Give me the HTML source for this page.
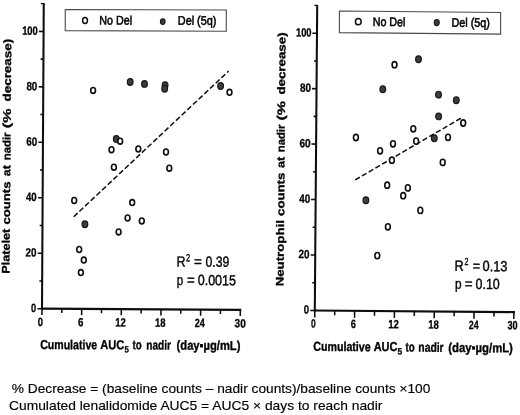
<!DOCTYPE html>
<html lang="en"><head><meta charset="utf-8"><title>Cumulative AUC5 vs nadir counts</title>
<style>html,body{margin:0;padding:0;background:#fff}body{width:520px;height:415px;overflow:hidden}svg{display:block;font-family:"Liberation Sans", sans-serif}text{white-space:pre}</style></head><body>
<svg width="520" height="415" viewBox="0 0 520 415">
<rect width="520" height="415" fill="#fff"/>
<g transform="rotate(0.33 42.0 308.7)">
<line x1="73.17" y1="216.62" x2="227.33" y2="69.93" stroke="#0d0d0d" stroke-width="1.5" stroke-dasharray="5.3 2.5"/>
<path d="M39.20 3.67H42.00" stroke="#0d0d0d" stroke-width="1.3" fill="none"/>
<path d="M42.00 3.07V309.70" stroke="#0d0d0d" stroke-width="2.05" fill="none"/>
<path d="M41.10 308.70H241.30" stroke="#0d0d0d" stroke-width="2.2" fill="none"/>
<path d="M37.40 308.70H42.00M37.40 253.24H42.00M37.40 197.78H42.00M37.40 142.32H42.00M37.40 86.86H42.00M37.40 31.40H42.00M39.20 280.97H42.00M39.20 225.51H42.00M39.20 170.05H42.00M39.20 114.59H42.00M39.20 59.13H42.00M42.00 308.70V314.90M81.66 308.70V314.90M121.32 308.70V314.90M160.98 308.70V314.90M200.64 308.70V314.90M240.30 308.70V314.90M61.83 308.70V312.90M101.49 308.70V312.90M141.15 308.70V312.90M180.81 308.70V312.90M220.47 308.70V312.90" stroke="#0d0d0d" stroke-width="1.55" fill="none"/>
<ellipse cx="128.89" cy="81.50" rx="2.85" ry="3.35" fill="#3d3d3d" stroke="#161616" stroke-width="1.2"/>
<ellipse cx="143.20" cy="83.31" rx="2.85" ry="3.35" fill="#3d3d3d" stroke="#161616" stroke-width="1.2"/>
<ellipse cx="163.81" cy="84.49" rx="2.85" ry="3.35" fill="#3d3d3d" stroke="#161616" stroke-width="1.2"/>
<ellipse cx="163.43" cy="88.10" rx="2.85" ry="3.35" fill="#3d3d3d" stroke="#161616" stroke-width="1.2"/>
<ellipse cx="219.31" cy="84.98" rx="2.85" ry="3.35" fill="#3d3d3d" stroke="#161616" stroke-width="1.2"/>
<ellipse cx="115.32" cy="138.47" rx="2.85" ry="3.35" fill="#3d3d3d" stroke="#161616" stroke-width="1.2"/>
<ellipse cx="84.41" cy="224.05" rx="2.85" ry="3.35" fill="#3d3d3d" stroke="#161616" stroke-width="1.2"/>
<ellipse cx="91.84" cy="90.11" rx="2.4" ry="2.95" fill="#fff" stroke="#0d0d0d" stroke-width="1.6"/>
<ellipse cx="228.25" cy="91.22" rx="2.4" ry="2.95" fill="#fff" stroke="#0d0d0d" stroke-width="1.6"/>
<ellipse cx="119.23" cy="140.75" rx="2.4" ry="2.95" fill="#fff" stroke="#0d0d0d" stroke-width="1.6"/>
<ellipse cx="110.58" cy="149.30" rx="2.4" ry="2.95" fill="#fff" stroke="#0d0d0d" stroke-width="1.6"/>
<ellipse cx="137.38" cy="148.35" rx="2.4" ry="2.95" fill="#fff" stroke="#0d0d0d" stroke-width="1.6"/>
<ellipse cx="165.10" cy="151.29" rx="2.4" ry="2.95" fill="#fff" stroke="#0d0d0d" stroke-width="1.6"/>
<ellipse cx="113.08" cy="166.79" rx="2.4" ry="2.95" fill="#fff" stroke="#0d0d0d" stroke-width="1.6"/>
<ellipse cx="168.49" cy="167.47" rx="2.4" ry="2.95" fill="#fff" stroke="#0d0d0d" stroke-width="1.6"/>
<ellipse cx="73.58" cy="200.32" rx="2.4" ry="2.95" fill="#fff" stroke="#0d0d0d" stroke-width="1.6"/>
<ellipse cx="131.59" cy="202.08" rx="2.4" ry="2.95" fill="#fff" stroke="#0d0d0d" stroke-width="1.6"/>
<ellipse cx="127.08" cy="217.51" rx="2.4" ry="2.95" fill="#fff" stroke="#0d0d0d" stroke-width="1.6"/>
<ellipse cx="141.29" cy="220.33" rx="2.4" ry="2.95" fill="#fff" stroke="#0d0d0d" stroke-width="1.6"/>
<ellipse cx="118.16" cy="231.46" rx="2.4" ry="2.95" fill="#fff" stroke="#0d0d0d" stroke-width="1.6"/>
<ellipse cx="78.86" cy="249.29" rx="2.4" ry="2.95" fill="#fff" stroke="#0d0d0d" stroke-width="1.6"/>
<ellipse cx="83.52" cy="259.86" rx="2.4" ry="2.95" fill="#fff" stroke="#0d0d0d" stroke-width="1.6"/>
<ellipse cx="80.69" cy="272.38" rx="2.4" ry="2.95" fill="#fff" stroke="#0d0d0d" stroke-width="1.6"/>
<polygon points="63.53,9.32 224.58,8.94 224.70,30.24 63.65,30.52" fill="#fff" stroke="#4a4a4a" stroke-width="1.1"/>
<ellipse cx="83.39" cy="20.26" rx="2.4" ry="3.0" fill="#fff" stroke="#0d0d0d" stroke-width="1.5"/>
<ellipse cx="161.09" cy="20.91" rx="2.35" ry="2.85" fill="#3d3d3d" stroke="#161616" stroke-width="1.1"/>
<text id="l_lg1" x="97.71" y="24.17" font-size="12.5" font-weight="normal" textLength="32.72" lengthAdjust="spacingAndGlyphs" fill="#000" stroke="#000" stroke-width="0.55">No Del</text>
<text id="l_lg2" x="176.21" y="23.92" font-size="12.5" font-weight="normal" textLength="38.56" lengthAdjust="spacingAndGlyphs" fill="#000" stroke="#000" stroke-width="0.55">Del (5q)</text>
<text id="l_y100" x="20.57" y="34.82" font-size="12" font-weight="bold" textLength="15.63" lengthAdjust="spacingAndGlyphs" fill="#000" stroke="#000" stroke-width="0.3">100</text>
<text id="l_y80" x="25.14" y="90.25" font-size="12" font-weight="bold" textLength="10.91" lengthAdjust="spacingAndGlyphs" fill="#000" stroke="#000" stroke-width="0.3">80</text>
<text id="l_y60" x="25.26" y="145.71" font-size="12" font-weight="bold" textLength="10.92" lengthAdjust="spacingAndGlyphs" fill="#000" stroke="#000" stroke-width="0.3">60</text>
<text id="l_y40" x="25.38" y="201.17" font-size="12" font-weight="bold" textLength="10.67" lengthAdjust="spacingAndGlyphs" fill="#000" stroke="#000" stroke-width="0.3">40</text>
<text id="l_y20" x="25.25" y="256.64" font-size="12" font-weight="bold" textLength="10.92" lengthAdjust="spacingAndGlyphs" fill="#000" stroke="#000" stroke-width="0.3">20</text>
<text id="l_y0" x="30.92" y="312.06" font-size="12" font-weight="bold" textLength="5.11" lengthAdjust="spacingAndGlyphs" fill="#000" stroke="#000" stroke-width="0.3">0</text>
<text id="l_x0" x="37.85" y="326.01" font-size="12" font-weight="bold" textLength="5.19" lengthAdjust="spacingAndGlyphs" fill="#000" stroke="#000" stroke-width="0.3">0</text>
<text id="l_x6" x="78.00" y="326.06" font-size="12" font-weight="bold" textLength="5.40" lengthAdjust="spacingAndGlyphs" fill="#000" stroke="#000" stroke-width="0.3">6</text>
<text id="l_x12" x="115.35" y="326.11" font-size="12" font-weight="bold" textLength="10.59" lengthAdjust="spacingAndGlyphs" fill="#000" stroke="#000" stroke-width="0.3">12</text>
<text id="l_x18" x="155.05" y="326.16" font-size="12" font-weight="bold" textLength="10.57" lengthAdjust="spacingAndGlyphs" fill="#000" stroke="#000" stroke-width="0.3">18</text>
<text id="l_x24" x="194.95" y="326.20" font-size="12" font-weight="bold" textLength="10.03" lengthAdjust="spacingAndGlyphs" fill="#000" stroke="#000" stroke-width="0.3">24</text>
<text id="l_x30" x="234.70" y="326.25" font-size="12" font-weight="bold" textLength="11.17" lengthAdjust="spacingAndGlyphs" fill="#000" stroke="#000" stroke-width="0.3">30</text>
<text id="l_R" x="176.16" y="265.83" font-size="14.7" font-weight="normal" textLength="9.00" lengthAdjust="spacingAndGlyphs" fill="#000" stroke="#000" stroke-width="0.4">R</text>
<text id="l_R2" x="185.62" y="260.37" font-size="10.3" font-weight="normal" textLength="4.15" lengthAdjust="spacingAndGlyphs" fill="#000" stroke="#000" stroke-width="0.32000000000000006">2</text>
<text id="l_Req" x="193.85" y="265.72" font-size="14.7" font-weight="normal" textLength="7.84" lengthAdjust="spacingAndGlyphs" fill="#000" stroke="#000" stroke-width="0.4">=</text>
<text id="l_Rv" x="205.31" y="265.76" font-size="14.7" font-weight="normal" textLength="23.71" lengthAdjust="spacingAndGlyphs" fill="#000" stroke="#000" stroke-width="0.4">0.39</text>
<text id="l_p" x="176.56" y="284.22" font-size="14.7" font-weight="normal" textLength="6.35" lengthAdjust="spacingAndGlyphs" fill="#000" stroke="#000" stroke-width="0.4">p</text>
<text id="l_peq" x="186.96" y="284.16" font-size="14.7" font-weight="normal" textLength="7.69" lengthAdjust="spacingAndGlyphs" fill="#000" stroke="#000" stroke-width="0.4">=</text>
<text id="l_pv" x="197.61" y="284.20" font-size="14.7" font-weight="normal" textLength="38.20" lengthAdjust="spacingAndGlyphs" fill="#000" stroke="#000" stroke-width="0.4">0.0015</text>
<text id="l_xt1" x="40.43" y="349.01" font-size="13" font-weight="bold" textLength="56.95" lengthAdjust="spacingAndGlyphs" fill="#000" stroke="#000" stroke-width="0.35">Cumulative</text>
<text id="l_xt2" x="100.43" y="348.76" font-size="13" font-weight="bold" textLength="23.95" lengthAdjust="spacingAndGlyphs" fill="#000" stroke="#000" stroke-width="0.35">AUC</text>
<text id="l_xt3" x="124.75" y="352.12" font-size="9.3" font-weight="bold" textLength="4.32" lengthAdjust="spacingAndGlyphs" fill="#000" stroke="#000" stroke-width="0.27999999999999997">5</text>
<text id="l_xt4" x="132.83" y="348.78" font-size="13" font-weight="bold" textLength="9.19" lengthAdjust="spacingAndGlyphs" fill="#000" stroke="#000" stroke-width="0.35">to</text>
<text id="l_xt5" x="146.58" y="348.80" font-size="13" font-weight="bold" textLength="24.54" lengthAdjust="spacingAndGlyphs" fill="#000" stroke="#000" stroke-width="0.35">nadir</text>
<text id="l_xt6" x="176.83" y="348.82" font-size="13" font-weight="bold" textLength="63.80" lengthAdjust="spacingAndGlyphs" fill="#000" stroke="#000" stroke-width="0.35">(day&#9642;&#181;g/mL)</text>
</g>
<g transform="rotate(0.45 314.8 310.5)">
<line x1="354.17" y1="179.59" x2="460.38" y2="116.45" stroke="#0d0d0d" stroke-width="1.5" stroke-dasharray="5.3 2.5"/>
<path d="M312.00 5.47H314.80" stroke="#0d0d0d" stroke-width="1.3" fill="none"/>
<path d="M314.80 4.87V311.50" stroke="#0d0d0d" stroke-width="2.05" fill="none"/>
<path d="M313.90 310.50H515.00" stroke="#0d0d0d" stroke-width="2.2" fill="none"/>
<path d="M310.20 310.50H314.80M310.20 255.04H314.80M310.20 199.58H314.80M310.20 144.12H314.80M310.20 88.66H314.80M310.20 33.20H314.80M312.00 282.77H314.80M312.00 227.31H314.80M312.00 171.85H314.80M312.00 116.39H314.80M312.00 60.93H314.80M314.80 310.50V317.40M354.62 310.50V317.40M394.43 310.50V317.40M434.25 310.50V317.40M474.06 310.50V317.40M513.88 310.50V317.40M334.71 310.50V315.20M374.52 310.50V315.20M414.34 310.50V315.20M454.16 310.50V315.20M493.97 310.50V315.20" stroke="#0d0d0d" stroke-width="1.55" fill="none"/>
<ellipse cx="381.06" cy="88.67" rx="2.85" ry="3.35" fill="#3d3d3d" stroke="#161616" stroke-width="1.2"/>
<ellipse cx="416.52" cy="58.39" rx="2.85" ry="3.35" fill="#3d3d3d" stroke="#161616" stroke-width="1.2"/>
<ellipse cx="436.80" cy="93.64" rx="2.85" ry="3.35" fill="#3d3d3d" stroke="#161616" stroke-width="1.2"/>
<ellipse cx="454.64" cy="99.20" rx="2.85" ry="3.35" fill="#3d3d3d" stroke="#161616" stroke-width="1.2"/>
<ellipse cx="437.07" cy="115.43" rx="2.85" ry="3.35" fill="#3d3d3d" stroke="#161616" stroke-width="1.2"/>
<ellipse cx="432.94" cy="137.27" rx="2.85" ry="3.35" fill="#3d3d3d" stroke="#161616" stroke-width="1.2"/>
<ellipse cx="365.03" cy="199.80" rx="2.85" ry="3.35" fill="#3d3d3d" stroke="#161616" stroke-width="1.2"/>
<ellipse cx="392.57" cy="64.08" rx="2.4" ry="3.1" fill="#fff" stroke="#0d0d0d" stroke-width="1.6"/>
<ellipse cx="354.54" cy="137.18" rx="2.4" ry="3.1" fill="#fff" stroke="#0d0d0d" stroke-width="1.6"/>
<ellipse cx="378.84" cy="150.29" rx="2.4" ry="3.1" fill="#fff" stroke="#0d0d0d" stroke-width="1.6"/>
<ellipse cx="391.69" cy="143.19" rx="2.4" ry="3.1" fill="#fff" stroke="#0d0d0d" stroke-width="1.6"/>
<ellipse cx="411.87" cy="128.03" rx="2.4" ry="3.1" fill="#fff" stroke="#0d0d0d" stroke-width="1.6"/>
<ellipse cx="414.77" cy="140.31" rx="2.4" ry="3.1" fill="#fff" stroke="#0d0d0d" stroke-width="1.6"/>
<ellipse cx="390.72" cy="159.60" rx="2.4" ry="3.1" fill="#fff" stroke="#0d0d0d" stroke-width="1.6"/>
<ellipse cx="446.64" cy="136.26" rx="2.4" ry="3.1" fill="#fff" stroke="#0d0d0d" stroke-width="1.6"/>
<ellipse cx="461.72" cy="121.84" rx="2.4" ry="3.1" fill="#fff" stroke="#0d0d0d" stroke-width="1.6"/>
<ellipse cx="441.53" cy="161.40" rx="2.4" ry="3.1" fill="#fff" stroke="#0d0d0d" stroke-width="1.6"/>
<ellipse cx="386.21" cy="184.64" rx="2.4" ry="3.1" fill="#fff" stroke="#0d0d0d" stroke-width="1.6"/>
<ellipse cx="406.83" cy="187.17" rx="2.4" ry="3.1" fill="#fff" stroke="#0d0d0d" stroke-width="1.6"/>
<ellipse cx="402.30" cy="195.01" rx="2.4" ry="3.1" fill="#fff" stroke="#0d0d0d" stroke-width="1.6"/>
<ellipse cx="419.51" cy="209.57" rx="2.4" ry="3.1" fill="#fff" stroke="#0d0d0d" stroke-width="1.6"/>
<ellipse cx="387.24" cy="226.23" rx="2.4" ry="3.1" fill="#fff" stroke="#0d0d0d" stroke-width="1.6"/>
<ellipse cx="376.87" cy="255.11" rx="2.4" ry="3.1" fill="#fff" stroke="#0d0d0d" stroke-width="1.6"/>
<polygon points="337.05,10.82 498.25,11.05 498.42,32.65 337.22,32.42" fill="#fff" stroke="#4a4a4a" stroke-width="1.1"/>
<ellipse cx="356.03" cy="21.37" rx="2.85" ry="3.1" fill="#fff" stroke="#0d0d0d" stroke-width="1.5"/>
<ellipse cx="434.49" cy="21.65" rx="2.5" ry="3.05" fill="#3d3d3d" stroke="#161616" stroke-width="1.1"/>
<text id="r_lg1" x="370.46" y="25.55" font-size="12.5" font-weight="normal" textLength="32.72" lengthAdjust="spacingAndGlyphs" fill="#000" stroke="#000" stroke-width="0.55">No Del</text>
<text id="r_lg2" x="449.27" y="25.64" font-size="12.5" font-weight="normal" textLength="38.27" lengthAdjust="spacingAndGlyphs" fill="#000" stroke="#000" stroke-width="0.55">Del (5q)</text>
<text id="r_y100" x="293.80" y="36.56" font-size="12" font-weight="bold" textLength="15.58" lengthAdjust="spacingAndGlyphs" fill="#000" stroke="#000" stroke-width="0.3">100</text>
<text id="r_y80" x="298.37" y="91.95" font-size="12" font-weight="bold" textLength="10.95" lengthAdjust="spacingAndGlyphs" fill="#000" stroke="#000" stroke-width="0.3">80</text>
<text id="r_y60" x="298.10" y="147.39" font-size="12" font-weight="bold" textLength="11.21" lengthAdjust="spacingAndGlyphs" fill="#000" stroke="#000" stroke-width="0.3">60</text>
<text id="r_y40" x="298.32" y="202.82" font-size="12" font-weight="bold" textLength="10.95" lengthAdjust="spacingAndGlyphs" fill="#000" stroke="#000" stroke-width="0.3">40</text>
<text id="r_y20" x="298.05" y="258.25" font-size="12" font-weight="bold" textLength="10.94" lengthAdjust="spacingAndGlyphs" fill="#000" stroke="#000" stroke-width="0.3">20</text>
<text id="r_y0" x="303.77" y="313.64" font-size="12" font-weight="bold" textLength="5.27" lengthAdjust="spacingAndGlyphs" fill="#000" stroke="#000" stroke-width="0.3">0</text>
<text id="r_x0" x="311.23" y="327.63" font-size="12" font-weight="bold" textLength="4.69" lengthAdjust="spacingAndGlyphs" fill="#000" stroke="#000" stroke-width="0.3">0</text>
<text id="r_x6" x="350.99" y="327.66" font-size="12" font-weight="bold" textLength="5.13" lengthAdjust="spacingAndGlyphs" fill="#000" stroke="#000" stroke-width="0.3">6</text>
<text id="r_x12" x="388.39" y="327.68" font-size="12" font-weight="bold" textLength="10.59" lengthAdjust="spacingAndGlyphs" fill="#000" stroke="#000" stroke-width="0.3">12</text>
<text id="r_x18" x="428.39" y="327.71" font-size="12" font-weight="bold" textLength="10.57" lengthAdjust="spacingAndGlyphs" fill="#000" stroke="#000" stroke-width="0.3">18</text>
<text id="r_x24" x="468.99" y="327.73" font-size="12" font-weight="bold" textLength="9.80" lengthAdjust="spacingAndGlyphs" fill="#000" stroke="#000" stroke-width="0.3">24</text>
<text id="r_x30" x="507.74" y="327.76" font-size="12" font-weight="bold" textLength="10.03" lengthAdjust="spacingAndGlyphs" fill="#000" stroke="#000" stroke-width="0.3">30</text>
<text id="r_R" x="454.13" y="269.70" font-size="14.7" font-weight="normal" textLength="9.16" lengthAdjust="spacingAndGlyphs" fill="#000" stroke="#000" stroke-width="0.4">R</text>
<text id="r_R2" x="464.19" y="263.83" font-size="10.3" font-weight="normal" textLength="3.96" lengthAdjust="spacingAndGlyphs" fill="#000" stroke="#000" stroke-width="0.32000000000000006">2</text>
<text id="r_Req" x="472.43" y="269.66" font-size="14.7" font-weight="normal" textLength="7.36" lengthAdjust="spacingAndGlyphs" fill="#000" stroke="#000" stroke-width="0.4">=</text>
<text id="r_Rv" x="482.24" y="269.78" font-size="14.7" font-weight="normal" textLength="24.86" lengthAdjust="spacingAndGlyphs" fill="#000" stroke="#000" stroke-width="0.4">0.13</text>
<text id="r_p" x="454.82" y="287.60" font-size="14.7" font-weight="normal" textLength="6.53" lengthAdjust="spacingAndGlyphs" fill="#000" stroke="#000" stroke-width="0.4">p</text>
<text id="r_peq" x="464.47" y="287.62" font-size="14.7" font-weight="normal" textLength="7.83" lengthAdjust="spacingAndGlyphs" fill="#000" stroke="#000" stroke-width="0.4">=</text>
<text id="r_pv" x="475.43" y="287.64" font-size="14.7" font-weight="normal" textLength="24.07" lengthAdjust="spacingAndGlyphs" fill="#000" stroke="#000" stroke-width="0.4">0.10</text>
<text id="r_xt1" x="313.67" y="350.81" font-size="13" font-weight="bold" textLength="57.25" lengthAdjust="spacingAndGlyphs" fill="#000" stroke="#000" stroke-width="0.35">Cumulative</text>
<text id="r_xt2" x="373.97" y="350.54" font-size="13" font-weight="bold" textLength="23.70" lengthAdjust="spacingAndGlyphs" fill="#000" stroke="#000" stroke-width="0.35">AUC</text>
<text id="r_xt3" x="397.89" y="353.95" font-size="9.3" font-weight="bold" textLength="4.60" lengthAdjust="spacingAndGlyphs" fill="#000" stroke="#000" stroke-width="0.27999999999999997">5</text>
<text id="r_xt4" x="405.92" y="350.69" font-size="13" font-weight="bold" textLength="9.19" lengthAdjust="spacingAndGlyphs" fill="#000" stroke="#000" stroke-width="0.35">to</text>
<text id="r_xt5" x="418.67" y="350.79" font-size="13" font-weight="bold" textLength="25.29" lengthAdjust="spacingAndGlyphs" fill="#000" stroke="#000" stroke-width="0.35">nadir</text>
<text id="r_xt6" x="448.67" y="350.85" font-size="13" font-weight="bold" textLength="64.55" lengthAdjust="spacingAndGlyphs" fill="#000" stroke="#000" stroke-width="0.35">(day&#9642;&#181;g/mL)</text>
</g>
<text id="l_yt0" transform="translate(9.50,273.85) rotate(-89.56)" font-size="11" font-weight="bold" textLength="45.20" lengthAdjust="spacingAndGlyphs" fill="#000" stroke="#000" stroke-width="0.3">Platelet</text>
<text id="l_yt1" transform="translate(9.88,224.45) rotate(-89.56)" font-size="11" font-weight="bold" textLength="42.90" lengthAdjust="spacingAndGlyphs" fill="#000" stroke="#000" stroke-width="0.3">counts</text>
<text id="l_yt2" transform="translate(10.25,176.15) rotate(-89.56)" font-size="11" font-weight="bold" textLength="11.04" lengthAdjust="spacingAndGlyphs" fill="#000" stroke="#000" stroke-width="0.3">at</text>
<text id="l_yt3" transform="translate(10.38,160.15) rotate(-89.56)" font-size="11" font-weight="bold" textLength="27.66" lengthAdjust="spacingAndGlyphs" fill="#000" stroke="#000" stroke-width="0.3">nadir</text>
<text id="l_yt4" transform="translate(10.62,128.35) rotate(-89.56)" font-size="11" font-weight="bold" textLength="20.01" lengthAdjust="spacingAndGlyphs" fill="#000" stroke="#000" stroke-width="0.3">(%</text>
<text id="l_yt5" transform="translate(10.82,101.60) rotate(-89.56)" font-size="11" font-weight="bold" textLength="62.96" lengthAdjust="spacingAndGlyphs" fill="#000" stroke="#000" stroke-width="0.3">decrease)</text>
<text id="r_yt0" transform="translate(283.60,286.30) rotate(-89.55)" font-size="11" font-weight="bold" textLength="66.12" lengthAdjust="spacingAndGlyphs" fill="#000" stroke="#000" stroke-width="0.3">Neutrophil</text>
<text id="r_yt1" transform="translate(284.13,215.90) rotate(-89.55)" font-size="11" font-weight="bold" textLength="43.16" lengthAdjust="spacingAndGlyphs" fill="#000" stroke="#000" stroke-width="0.3">counts</text>
<text id="r_yt2" transform="translate(284.50,167.95) rotate(-89.55)" font-size="11" font-weight="bold" textLength="11.17" lengthAdjust="spacingAndGlyphs" fill="#000" stroke="#000" stroke-width="0.3">at</text>
<text id="r_yt3" transform="translate(284.62,152.20) rotate(-89.55)" font-size="11" font-weight="bold" textLength="27.55" lengthAdjust="spacingAndGlyphs" fill="#000" stroke="#000" stroke-width="0.3">nadir</text>
<text id="r_yt4" transform="translate(284.86,120.50) rotate(-89.55)" font-size="11" font-weight="bold" textLength="19.66" lengthAdjust="spacingAndGlyphs" fill="#000" stroke="#000" stroke-width="0.3">(%</text>
<text id="r_yt5" transform="translate(285.05,94.60) rotate(-89.55)" font-size="11" font-weight="bold" textLength="62.20" lengthAdjust="spacingAndGlyphs" fill="#000" stroke="#000" stroke-width="0.3">decrease)</text>
<text id="f1" x="11.75" y="392.50" font-size="13.3" font-weight="normal" textLength="418.60" lengthAdjust="spacingAndGlyphs" fill="#000" stroke="#000" stroke-width="0.15">% Decrease = (baseline counts &#8211; nadir counts)/baseline counts &#215;100</text>
<text id="f2" x="9.00" y="409.50" font-size="13.3" font-weight="normal" textLength="373.45" lengthAdjust="spacingAndGlyphs" fill="#000" stroke="#000" stroke-width="0.15">Cumulated lenalidomide AUC5 = AUC5 &#215; days to reach nadir</text>
</svg></body></html>
